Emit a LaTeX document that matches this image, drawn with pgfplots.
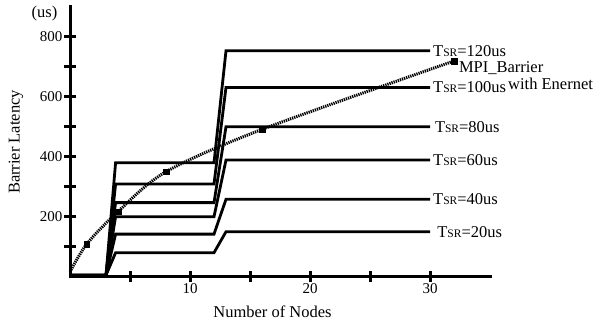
\documentclass[border=0pt]{standalone}
\usepackage{fontspec}
\setmainfont{Liberation Serif}
\usepackage{pgfplots}
\pgfplotsset{compat=1.18}
\newcommand{\tsr}[1]{T{\fontsize{11.5}{12}\selectfont SR}=#1us}
\begin{document}
\begin{tikzpicture}[font=\fontsize{16.5}{19}\selectfont]
\useasboundingbox (0,0) rectangle (608pt,325pt);
\begin{axis}[
  at={(70pt,48.3pt)}, anchor=south west,
  scale only axis, width=420pt, height=270pt,
  xmin=0, xmax=35, ymin=0, ymax=900,
  axis lines=left, axis line style={line width=3pt, -, line cap=rect},
  xtick={5,10,...,30}, xticklabels={,10,,20,,30},
  ytick={100,200,...,800}, yticklabels={,200,,400,,600,,800},
  tick align=center, major tick length=11pt,
  tick style={line width=3pt, black},
  xticklabel style={font=\fontsize{15}{17}\selectfont, inner sep=1pt},
  yticklabel style={font=\fontsize{15}{17}\selectfont, inner sep=2pt},
  clip=false,
]
\addplot[line width=2.8pt] coordinates {(0,5) (3,5) (3.8,80) (12,80) (13,150) (30,150)};
\addplot[line width=2.8pt] coordinates {(0,5) (3,5) (3.8,142) (12,142) (13,258) (30,258)};
\addplot[line width=2.8pt] coordinates {(0,5) (3,5) (3.8,200) (12,200) (13,389) (30,389)};
\addplot[line width=2.8pt] coordinates {(0,5) (3,5) (3.8,247) (12,247) (13,500) (30,500)};
\addplot[line width=2.8pt] coordinates {(0,5) (3,5) (3.8,309) (12,309) (13,631) (30,631)};
\addplot[line width=2.8pt] coordinates {(0,5) (3,5) (3.8,380) (12,380) (13,753) (30,753)};
\addplot[line width=3pt, dash pattern=on 1.3pt off 0.9pt, smooth] coordinates {(0,16) (1.4,109) (4,217) (8,350) (16,491) (32,719)};
\addplot[only marks, mark=square*, mark size=2.8pt] coordinates {(1.4,109) (4,217) (8,350) (16,491) (32,719)};
\node[anchor=west, inner sep=0] at (axis cs:30.6,150) {\tsr{20}};
\node[anchor=west, inner sep=0] at (axis cs:30.25,258) {\tsr{40}};
\node[anchor=west, inner sep=0] at (axis cs:30.25,389) {\tsr{60}};
\node[anchor=west, inner sep=0] at (axis cs:30.4,500) {\tsr{80}};
\node[anchor=west, inner sep=0] at (axis cs:30.25,631) {\tsr{100}};
\node[anchor=west, inner sep=0] at (axis cs:30.25,753) {\tsr{120}};
\node[anchor=west, inner sep=0] at (axis cs:32.4,695) {MPI\_Barrier};
\node[anchor=west, inner sep=0] at (axis cs:36.5,642) {with Enernet};
\end{axis}
\node[rotate=90] at (16pt,183pt) {Barrier Latency};
\node at (44.5pt,311pt) {(us)};
\node at (272.5pt,13pt) {Number of Nodes};
\end{tikzpicture}
\end{document}
